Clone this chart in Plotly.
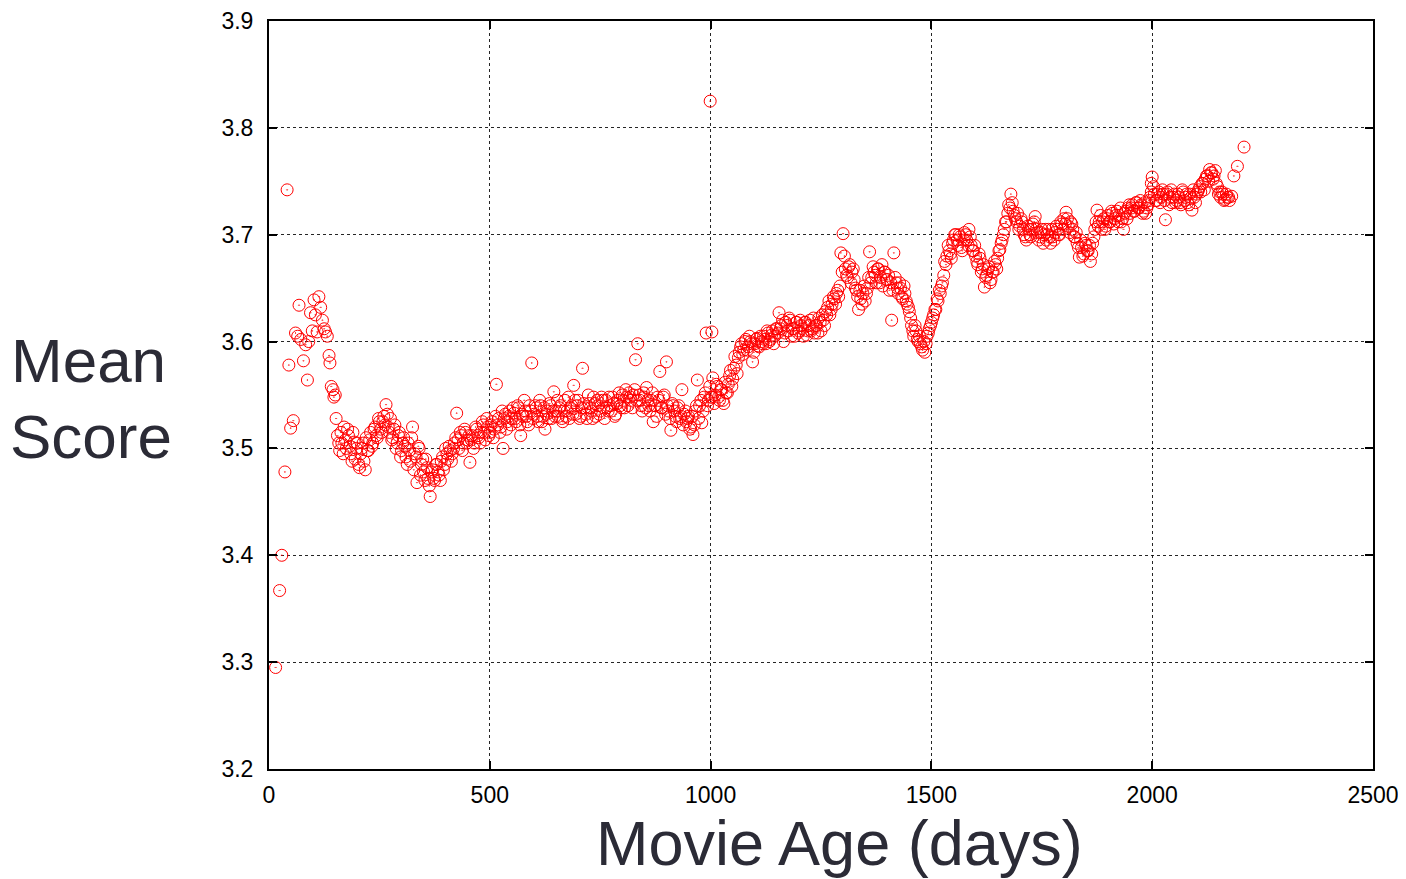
import plotly.graph_objects as go

# Early, sparse samples (day, mean score)
early_days = [15, 24, 29, 36, 41, 45, 49, 55, 60, 65, 68, 72, 78, 83, 87, 90, 94, 98,
              102, 105, 109, 113, 117, 121, 125, 128, 132, 136, 138, 141, 145, 147, 150, 152]
early_scores = [3.295, 3.367, 3.400, 3.478, 3.742, 3.578, 3.519, 3.526, 3.608, 3.605,
                3.634, 3.602, 3.582, 3.597, 3.564, 3.600, 3.627, 3.610, 3.639, 3.625,
                3.609, 3.642, 3.632, 3.620, 3.612, 3.609, 3.605, 3.587, 3.580, 3.558,
                3.555, 3.548, 3.550, 3.528]

# Dense samples A, one every 5 days starting at day 155
dense_days_a = list(range(155, 2181, 5))
dense_scores_a = [
    # 155-250
    3.512, 3.498, 3.505, 3.520, 3.500, 3.512, 3.495, 3.515, 3.490, 3.505,
    3.482, 3.500, 3.488, 3.510, 3.498, 3.515, 3.505, 3.520, 3.510, 3.525,
    # 255-350
    3.515, 3.530, 3.541, 3.520, 3.528, 3.510, 3.522, 3.505, 3.515, 3.498,
    3.510, 3.492, 3.505, 3.488, 3.520, 3.495, 3.468, 3.500, 3.485, 3.478,
    # 355-450
    3.490, 3.472, 3.455, 3.480, 3.470, 3.485, 3.475, 3.488, 3.480, 3.500,
    3.490, 3.498, 3.495, 3.505, 3.533, 3.500, 3.512, 3.505, 3.515, 3.508,
    # 455-550
    3.487, 3.512, 3.505, 3.518, 3.510, 3.515, 3.522, 3.508, 3.520, 3.515,
    3.525, 3.518, 3.560, 3.528, 3.520, 3.500, 3.532, 3.525, 3.535, 3.528,
    # 555-650
    3.533, 3.525, 3.538, 3.512, 3.530, 3.535, 3.525, 3.540, 3.580, 3.532,
    3.538, 3.525, 3.540, 3.530, 3.518, 3.535, 3.542, 3.528, 3.553, 3.535,
    # 655-750
    3.530, 3.540, 3.525, 3.545, 3.535, 3.528, 3.540, 3.559, 3.532, 3.545,
    3.530, 3.575, 3.538, 3.528, 3.542, 3.535, 3.548, 3.530, 3.540, 3.535,
    # 755-850
    3.545, 3.528, 3.538, 3.548, 3.535, 3.542, 3.532, 3.545, 3.540, 3.550,
    3.538, 3.548, 3.552, 3.545, 3.550, 3.583, 3.598, 3.545, 3.535, 3.548,
    # 855-950
    3.557, 3.540, 3.545, 3.525, 3.540, 3.548, 3.572, 3.538, 3.550, 3.581,
    3.535, 3.517, 3.540, 3.530, 3.538, 3.528, 3.555, 3.532, 3.525, 3.530,
    # 955-1050
    3.520, 3.513, 3.535, 3.564, 3.540, 3.524, 3.548, 3.608, 3.545, 3.548,
    3.566, 3.550, 3.558, 3.545, 3.555, 3.542, 3.552, 3.560, 3.573, 3.565,
    # 1055-1150
    3.586, 3.570, 3.590, 3.598, 3.592, 3.602, 3.595, 3.600, 3.581, 3.598,
    3.603, 3.595, 3.600, 3.605, 3.598, 3.608, 3.602, 3.610, 3.605, 3.612,
    # 1155-1250
    3.627, 3.615, 3.600, 3.618, 3.610, 3.620, 3.612, 3.605, 3.618, 3.610,
    3.615, 3.605, 3.618, 3.610, 3.620, 3.612, 3.608, 3.615, 3.622, 3.610,
    # 1255-1350
    3.620, 3.628, 3.632, 3.625, 3.635, 3.640, 3.645, 3.642, 3.683, 3.701,
    3.668, 3.660, 3.672, 3.665, 3.658, 3.648, 3.630, 3.640, 3.645, 3.638,
    # 1355-1450
    3.650, 3.684, 3.660, 3.665, 3.655, 3.668, 3.660, 3.652, 3.665, 3.658,
    3.648, 3.620, 3.683, 3.655, 3.645, 3.650, 3.640, 3.645, 3.635, 3.628,
    # 1455-1550
    3.615, 3.605, 3.610, 3.600, 3.598, 3.592, 3.590, 3.605, 3.612, 3.618,
    3.625, 3.630, 3.638, 3.645, 3.655, 3.675, 3.680, 3.685, 3.678, 3.695,
    # 1555-1650
    3.700, 3.690, 3.698, 3.685, 3.702, 3.695, 3.705, 3.690, 3.685, 3.680,
    3.672, 3.678, 3.668, 3.651, 3.662, 3.670, 3.658, 3.665, 3.672, 3.678,
    # 1655-1750
    3.686, 3.695, 3.705, 3.712, 3.728, 3.738, 3.722, 3.715, 3.720, 3.708,
    3.712, 3.700, 3.695, 3.705, 3.698, 3.710, 3.717, 3.702, 3.698, 3.705,
    # 1755-1850
    3.700, 3.695, 3.705, 3.692, 3.698, 3.702, 3.705, 3.700, 3.710, 3.715,
    3.721, 3.708, 3.712, 3.705, 3.698, 3.692, 3.679, 3.688, 3.682, 3.690,
    # 1855-1950
    3.685, 3.675, 3.692, 3.705, 3.723, 3.712, 3.705, 3.715, 3.708, 3.718,
    3.712, 3.720, 3.715, 3.722, 3.718, 3.712, 3.705, 3.722, 3.725, 3.720,
    # 1955-2050
    3.728, 3.722, 3.730, 3.725, 3.728, 3.722, 3.720, 3.728, 3.735, 3.754,
    3.738, 3.732, 3.740, 3.735, 3.738, 3.714, 3.740, 3.735, 3.730, 3.738,
    # 2055-2150
    3.732, 3.735, 3.728, 3.740, 3.735, 3.730, 3.738, 3.723, 3.735, 3.738,
    3.742, 3.740, 3.748, 3.752, 3.755, 3.761, 3.758, 3.755, 3.748, 3.738,
    # 2155-2180
    3.735, 3.738, 3.733, 3.735, 3.732, 3.736,
]

# Dense samples B, one every 5 days starting at day 158
dense_days_b = list(range(158, 2174, 5))
dense_scores_b = [
    # 158-253
    3.505, 3.515, 3.495, 3.508, 3.518, 3.502, 3.488, 3.506, 3.500, 3.485,
    3.495, 3.505, 3.480, 3.498, 3.508, 3.502, 3.518, 3.512, 3.528, 3.518,
    # 258-353
    3.525, 3.522, 3.532, 3.515, 3.508, 3.518, 3.500, 3.512, 3.492, 3.505,
    3.502, 3.485, 3.498, 3.510, 3.480, 3.492, 3.502, 3.475, 3.490, 3.470,
    # 358-453
    3.482, 3.465, 3.478, 3.472, 3.485, 3.478, 3.470, 3.492, 3.485, 3.495,
    3.502, 3.488, 3.500, 3.510, 3.508, 3.515, 3.498, 3.518, 3.505, 3.512,
    # 458-553
    3.508, 3.500, 3.520, 3.512, 3.505, 3.525, 3.515, 3.528, 3.512, 3.522,
    3.510, 3.530, 3.522, 3.515, 3.535, 3.528, 3.518, 3.530, 3.522, 3.538,
    # 558-653
    3.528, 3.540, 3.522, 3.532, 3.545, 3.530, 3.522, 3.535, 3.528, 3.540,
    3.530, 3.545, 3.525, 3.538, 3.532, 3.528, 3.540, 3.535, 3.530, 3.545,
    # 658-753
    3.538, 3.528, 3.535, 3.530, 3.548, 3.538, 3.532, 3.545, 3.540, 3.528,
    3.538, 3.542, 3.532, 3.550, 3.538, 3.528, 3.542, 3.545, 3.532, 3.548,
    # 758-853
    3.538, 3.545, 3.535, 3.540, 3.548, 3.530, 3.542, 3.552, 3.538, 3.545,
    3.555, 3.540, 3.548, 3.538, 3.555, 3.545, 3.550, 3.540, 3.552, 3.538,
    # 858-953
    3.545, 3.535, 3.552, 3.540, 3.530, 3.545, 3.538, 3.548, 3.532, 3.540,
    3.528, 3.542, 3.535, 3.525, 3.540, 3.530, 3.522, 3.535, 3.528, 3.518,
    # 958-1053
    3.530, 3.522, 3.540, 3.528, 3.545, 3.535, 3.552, 3.540, 3.558, 3.548,
    3.542, 3.560, 3.548, 3.555, 3.545, 3.562, 3.552, 3.568, 3.558, 3.575,
    # 1058-1153
    3.578, 3.585, 3.595, 3.588, 3.600, 3.592, 3.605, 3.598, 3.590, 3.602,
    3.596, 3.605, 3.598, 3.602, 3.610, 3.600, 3.606, 3.598, 3.612, 3.608,
    # 1158-1253
    3.612, 3.620, 3.608, 3.615, 3.622, 3.605, 3.612, 3.618, 3.608, 3.620,
    3.612, 3.618, 3.606, 3.615, 3.610, 3.622, 3.615, 3.608, 3.618, 3.625,
    # 1258-1353
    3.615, 3.625, 3.638, 3.630, 3.642, 3.635, 3.648, 3.652, 3.665, 3.680,
    3.662, 3.670, 3.655, 3.668, 3.650, 3.642, 3.648, 3.635, 3.652, 3.645,
    # 1358-1453
    3.660, 3.655, 3.670, 3.662, 3.668, 3.655, 3.672, 3.665, 3.658, 3.662,
    3.655, 3.648, 3.660, 3.650, 3.655, 3.642, 3.652, 3.638, 3.632, 3.622,
    # 1458-1553
    3.610, 3.615, 3.602, 3.605, 3.595, 3.600, 3.598, 3.608, 3.615, 3.622,
    3.630, 3.640, 3.648, 3.652, 3.662, 3.672, 3.690, 3.682, 3.692, 3.700,
    # 1558-1653
    3.695, 3.700, 3.688, 3.695, 3.700, 3.690, 3.698, 3.685, 3.690, 3.675,
    3.682, 3.665, 3.672, 3.660, 3.668, 3.655, 3.665, 3.675, 3.668, 3.685,
    # 1658-1753
    3.692, 3.700, 3.712, 3.720, 3.725, 3.730, 3.718, 3.712, 3.705, 3.715,
    3.705, 3.698, 3.708, 3.700, 3.705, 3.712, 3.705, 3.695, 3.702, 3.692,
    # 1758-1853
    3.705, 3.700, 3.698, 3.705, 3.695, 3.708, 3.700, 3.712, 3.705, 3.710,
    3.715, 3.702, 3.710, 3.698, 3.702, 3.688, 3.695, 3.680, 3.692, 3.685,
    # 1858-1953
    3.690, 3.682, 3.698, 3.712, 3.708, 3.718, 3.712, 3.705, 3.715, 3.712,
    3.722, 3.710, 3.718, 3.712, 3.725, 3.715, 3.720, 3.715, 3.728, 3.725,
    # 1958-2053
    3.722, 3.730, 3.725, 3.732, 3.720, 3.730, 3.725, 3.732, 3.740, 3.745,
    3.732, 3.738, 3.730, 3.742, 3.732, 3.738, 3.728, 3.742, 3.735, 3.730,
    # 2058-2153
    3.738, 3.730, 3.742, 3.732, 3.738, 3.728, 3.735, 3.742, 3.730, 3.740,
    3.745, 3.748, 3.742, 3.755, 3.750, 3.758, 3.752, 3.760, 3.745, 3.740,
    # 2158-2173
    3.740, 3.732, 3.738, 3.735,
]

# Late and isolated samples
extra_days = [999, 1003, 1998, 2185, 2193, 2208]
extra_scores = [3.825, 3.609, 3.748, 3.755, 3.764, 3.782]

x_ticks = [0, 500, 1000, 1500, 2000, 2500]
y_ticks = [3.2, 3.3, 3.4, 3.5, 3.6, 3.7, 3.8, 3.9]

assert len(dense_days_a) == len(dense_scores_a), (len(dense_days_a), len(dense_scores_a))
assert len(dense_days_b) == len(dense_scores_b), (len(dense_days_b), len(dense_scores_b))

days = early_days + dense_days_a + dense_days_b + extra_days
scores = early_scores + dense_scores_a + dense_scores_b + extra_scores

fig = go.Figure()
fig.add_trace(go.Scatter(
    x=days, y=scores, mode="markers",
    marker=dict(symbol="circle-open-dot", size=12, color="#ff0000",
                line=dict(width=1, color="#ff0000")),
    showlegend=False, hoverinfo="x+y",
))

font_family = "Liberation Sans, Arial, Helvetica, sans-serif"
axis_common = dict(
    showline=True, linecolor="black", linewidth=2, mirror="allticks",
    ticks="inside", ticklen=8, tickwidth=1.5, tickcolor="black",
    showgrid=True, gridcolor="rgba(0,0,0,0.85)", gridwidth=1, griddash="dot",
    zeroline=False, automargin=False,
    tickfont=dict(family=font_family, size=23, color="black"),
)

fig.update_xaxes(range=[0, 2500], tickvals=x_ticks, ticktext=[str(v) for v in x_ticks],
                 ticklabelstandoff=4, **axis_common)
fig.update_yaxes(range=[3.2, 3.9], tickvals=y_ticks, ticktext=[f"{v:.1f}" for v in y_ticks],
                 ticklabelstandoff=9, **axis_common)

title_color = "#2b2b36"
# The page body adds an 8px offset, so the figure is sized to fit the window.
fig.update_layout(
    width=1398, height=871,
    margin=dict(l=261, r=33, t=13, b=110, autoexpand=False),
    plot_bgcolor="white", paper_bgcolor="white",
    font=dict(family=font_family),
    annotations=[
        dict(text="Movie Age (days)", xref="paper", yref="paper",
             x=0.517, y=-0.0995, xanchor="center", yanchor="middle",
             showarrow=False, font=dict(size=63, color=title_color, family=font_family)),
        dict(text="Mean", xref="paper", yref="paper",
             x=-0.2357, y=0.546, xanchor="left", yanchor="middle",
             showarrow=False, font=dict(size=62, color=title_color, family=font_family)),
        dict(text="Score", xref="paper", yref="paper",
             x=-0.2367, y=0.444, xanchor="left", yanchor="middle",
             showarrow=False, font=dict(size=62, color=title_color, family=font_family)),
    ],
)

fig.write_html("out.html")
